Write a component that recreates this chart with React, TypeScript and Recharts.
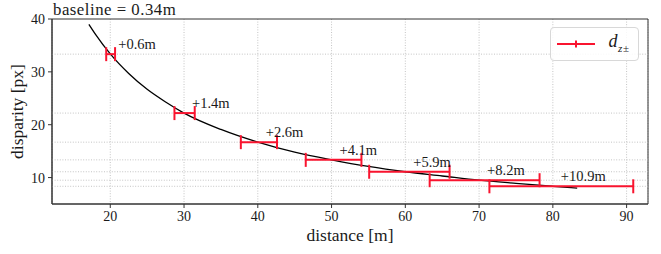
import React from 'react';
import {
  ComposedChart,
  Line,
  Scatter,
  XAxis,
  YAxis,
  CartesianGrid,
  ReferenceLine,
  ReferenceArea,
  ErrorBar,
  Legend,
} from 'recharts';

// ---- data ----
const distances = [20, 30, 40, 50, 60, 70, 80];
const disparities = [33.35, 22.2, 16.7, 13.35, 11.1, 9.5, 8.35];
const distLow = [19.45, 28.7, 37.7, 46.5, 55.1, 63.3, 71.4];
const distHigh = [20.65, 31.45, 42.6, 54.05, 66.0, 78.2, 90.9];
const errLabels = ['+0.6m', '+1.4m', '+2.6m', '+4.1m', '+5.9m', '+8.2m', '+10.9m'];

const curveDist = [17.1, 18, 20, 22.5, 25, 27.5, 30, 35, 40, 45, 50, 55, 60, 65, 70, 75, 80, 83.3];
const curveDisp = [39.0, 37.1, 33.4, 29.7, 26.7, 24.3, 22.2, 19.1, 16.7, 14.8, 13.35, 12.1, 11.1, 10.3, 9.5, 8.9, 8.35, 8.0];

const xTicks = [20, 30, 40, 50, 60, 70, 80, 90];
const yTicks = [10, 20, 30, 40];
const xDomain: [number, number] = [12.1, 92.9];
const yDomain: [number, number] = [5, 40];

const titleText = 'baseline = 0.34m';
const xLabelText = 'distance [m]';
const yLabelText = 'disparity [px]';

// ---- styles ----
const FONT = '"Liberation Serif", "DejaVu Serif", serif';
const RED = '#f9142f';
const GRID = '#c4c4c4';
const AXIS = '#333';

const points = distances.map((z, i) => ({
  x: z,
  y: disparities[i],
  ex: [z - distLow[i], distHigh[i] - z],
  label: errLabels[i],
}));
const curve = curveDist.map((z, i) => ({ x: z, y: curveDisp[i] }));

const LabelShape = (props: any) => {
  const { cx, cy, payload } = props;
  if (cx == null || cy == null) return <g />;
  return (
    <text x={cx + 8} y={cy - 5} fontSize={14.5} fontFamily={FONT} fill="#1a1a1a">
      {payload.label}
    </text>
  );
};

const XLabel = (props: any) => {
  const vb = props.viewBox || { x: 52, y: 204, width: 596, height: 50 };
  return (
    <text x={vb.x + vb.width / 2} y={vb.y + 37} textAnchor="middle" fontSize={17.5} fontFamily={FONT} fill="#1a1a1a">
      {xLabelText}
    </text>
  );
};

const YLabel = (props: any) => {
  const vb = props.viewBox || { x: 0, y: 19, width: 52, height: 185 };
  const cx = 23;
  const cy = vb.y + vb.height / 2;
  return (
    <text
      x={cx}
      y={cy}
      transform={`rotate(-90, ${cx}, ${cy})`}
      textAnchor="middle"
      fontSize={17.5}
      fontFamily={FONT}
      fill="#1a1a1a"
    >
      {yLabelText}
    </text>
  );
};

const LegendBox = () => (
  <div
    style={{
      width: 89,
      height: 34,
      boxSizing: 'border-box',
      border: '1px solid #d8d8d8',
      borderRadius: 4,
      background: 'rgba(255,255,255,0.85)',
      position: 'relative',
    }}
  >
    <svg width={89} height={34} style={{ position: 'absolute', left: -1, top: -1 }}>
      <line x1={7} x2={45} y1={17} y2={17} stroke={RED} strokeWidth={2} />
      <line x1={26} x2={26} y1={13.5} y2={20.5} stroke={RED} strokeWidth={2} />
      <text x={58.5} y={20} fontSize={18} fontStyle="italic" fontFamily={FONT} fill="#1a1a1a">
        d
      </text>
      <text x={68} y={25} fontSize={11} fontStyle="italic" fontFamily={FONT} fill="#1a1a1a">
        z
      </text>
      <text x={73} y={25} fontSize={11} fontFamily={FONT} fill="#1a1a1a">
        ±
      </text>
    </svg>
  </div>
);

export default function App() {
  return (
    <div style={{ position: 'absolute', left: 0, top: 0, width: 661, height: 254, background: '#fff' }}>
      <ComposedChart width={661} height={254} margin={{ top: 19, right: 13, bottom: 0, left: 0 }}>
        <CartesianGrid horizontal={false} stroke={GRID} strokeDasharray="1 1.6" />
        {disparities.map((d, i) => (
          <ReferenceLine key={`h${i}`} y={d} stroke={GRID} strokeDasharray="1 1.6" />
        ))}
        <XAxis
          type="number"
          dataKey="x"
          domain={xDomain}
          ticks={xTicks}
          allowDataOverflow
          height={50}
          tickSize={4}
          tickMargin={3}
          stroke={AXIS}
          tick={{ fontSize: 14, fontFamily: FONT, fill: '#1a1a1a' }}
          label={{ content: XLabel }}
        />
        <YAxis
          type="number"
          dataKey="y"
          domain={yDomain}
          ticks={yTicks}
          allowDataOverflow
          width={52}
          tickSize={4}
          tickMargin={3}
          stroke={AXIS}
          tick={{ fontSize: 14, fontFamily: FONT, fill: '#1a1a1a' }}
          label={{ content: YLabel }}
        />
        <Line
          data={curve}
          dataKey="y"
          type="monotone"
          stroke="#000"
          strokeWidth={1.3}
          dot={false}
          activeDot={false}
          isAnimationActive={false}
          legendType="none"
        />
        <Scatter data={points} dataKey="y" isAnimationActive={false} shape={LabelShape}>
          <ErrorBar dataKey="ex" direction="x" width={7} stroke={RED} strokeWidth={2} isAnimationActive={false} />
        </Scatter>
        <ReferenceArea
          x1={xDomain[0]}
          x2={xDomain[1]}
          y1={yDomain[0]}
          y2={yDomain[1]}
          fill="none"
          fillOpacity={0}
          stroke={AXIS}
          strokeWidth={1}
        />
        <Legend
          layout="horizontal"
          verticalAlign="middle"
          align="center"
          content={LegendBox}
          wrapperStyle={{ left: 550, top: 27, width: 89, height: 34 }}
        />
      </ComposedChart>
      <svg
        width={661}
        height={30}
        style={{ position: 'absolute', left: 0, top: 0, pointerEvents: 'none' }}
      >
        <text x={53} y={15} fontSize={16.8} letterSpacing={0.5} fontFamily={FONT} fill="#1a1a1a">
          {titleText}
        </text>
      </svg>
    </div>
  );
}
